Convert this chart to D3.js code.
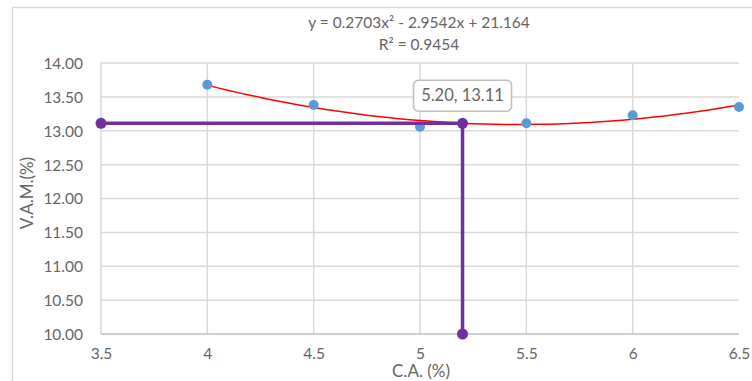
<!DOCTYPE html>
<html lang="en">
<head>
<meta charset="UTF-8">
<title>V.A.M. vs C.A.</title>
<script src="https://d3js.org/d3.v7.min.js"></script>
<style>
  body { margin: 0; background: white; }
  text { font-family: Lato, "Open Sans", sans-serif; fill: #656565; }
</style>
</head>
<body>
<svg id="main" width="752" height="381"></svg>
<script>
    // data
    let caValues = [4, 4.5, 5, 5.5, 6, 6.5];
    let vamValues = [13.68, 13.38, 13.06, 13.11, 13.23, 13.35];
    // polynomial trendline coefficients shown on the chart (a, b, c)
    let trendCoef = [0.2703, -2.9542, 21.164];
    let trendLabel = ["y = 0.2703x² - 2.9542x + 21.164", "R² = 0.9454"];
    // marked optimum
    let optimum = {x: 5.2, y: 13.11};
    let xTicks = [3.5, 4, 4.5, 5, 5.5, 6, 6.5];
    let yTicks = [10, 10.5, 11, 11.5, 12, 12.5, 13, 13.5, 14];

    let svg = d3.select('svg#main');
    let margins = {left: 101, right: 13, top: 63, bottom: 47};
    let W = 752, H = 381;

    // chart frame
    svg.append('rect')
        .attr('x', 12.5).attr('y', 7.5)
        .attr('width', W).attr('height', H)
        .style('fill', 'white')
        .style('stroke', '#d9d9d9')
        .style('stroke-width', '1.5px');

    let x = d3.scaleLinear().domain([3.5, 6.5]).range([margins.left, W - margins.right]);
    let y = d3.scaleLinear().domain([10, 14]).range([H - margins.bottom, margins.top]);

    // gridlines
    let grid = svg.append('g');
    grid.selectAll('line.h').data(yTicks.slice(1)).join('line')
        .attr('x1', x(3.5)).attr('x2', x(6.5))
        .attr('y1', d => y(d)).attr('y2', d => y(d))
        .style('stroke', '#d9d9d9').style('stroke-width', '1.5px');
    grid.selectAll('line.v').data(xTicks.slice(0, -1)).join('line')
        .attr('x1', d => x(d)).attr('x2', d => x(d))
        .attr('y1', y(14)).attr('y2', y(10))
        .style('stroke', '#d9d9d9').style('stroke-width', '1.5px');
    // bottom axis line
    svg.append('line')
        .attr('x1', x(3.5)).attr('x2', x(6.5))
        .attr('y1', y(10)).attr('y2', y(10))
        .style('stroke', '#bfbfbf').style('stroke-width', '1.5px');

    // tick labels
    let yAxis = svg.append('g')
        .attr('transform', 'translate(' + (margins.left - 18) + ',0)')
        .call(d3.axisLeft(y).tickValues(yTicks).tickFormat(d3.format('.2f')).tickSize(0));
    yAxis.select('.domain').remove();
    yAxis.selectAll('text').style('font-size', '15.5px').attr('x', 0).attr('dy', '0.35em');

    let xAxis = svg.append('g')
        .attr('transform', 'translate(0,' + (y(10) + 14) + ')')
        .call(d3.axisBottom(x).tickValues(xTicks).tickFormat(d => d).tickSize(0));
    xAxis.select('.domain').remove();
    xAxis.selectAll('text').style('font-size', '15.5px').attr('y', 0).attr('dy', '0.71em');

    // axis titles
    svg.append('text')
        .attr('transform', 'translate(33,' + 193 + ') rotate(-90)')
        .attr('text-anchor', 'middle')
        .style('font-size', '17px')
        .text('V.A.M.(%)');
    svg.append('text')
        .attr('x', 421).attr('y', 377)
        .attr('text-anchor', 'middle')
        .style('font-size', '17px')
        .text('C.A. (%)');

    // trendline from displayed coefficients
    let trendX = d3.range(4, 6.5001, 0.05);
    let line = d3.line().x(d => x(d)).y(d => y(trendCoef[0] * d * d + trendCoef[1] * d + trendCoef[2]));
    svg.append('path')
        .attr('d', line(trendX))
        .style('fill', 'none').style('stroke', '#ff0000').style('stroke-width', '1.5px');

    // data points
    svg.append('g').selectAll('circle').data(caValues).join('circle')
        .attr('cx', d => x(d))
        .attr('cy', (d, i) => y(vamValues[i]))
        .attr('r', 5)
        .style('fill', '#5b9bd5');

    // optimum guide lines
    let guide = [[3.5, optimum.y], [optimum.x, optimum.y], [optimum.x, 10]];
    svg.append('path')
        .attr('d', d3.line().x(d => x(d[0])).y(d => y(d[1]))(guide))
        .style('fill', 'none').style('stroke', '#7030a0').style('stroke-width', '3.5px');
    svg.append('g').selectAll('circle').data(guide).join('circle')
        .attr('cx', d => x(d[0])).attr('cy', d => y(d[1]))
        .attr('r', 5.5)
        .style('fill', '#7030a0');

    // data label
    let lx = x(optimum.x), ly = y(optimum.y) - 28;
    svg.append('rect')
        .attr('x', lx - 49).attr('y', ly - 15)
        .attr('width', 98).attr('height', 31)
        .attr('rx', 5)
        .style('fill', 'white').style('stroke', '#bfbfbf').style('stroke-width', '1.5px');
    svg.append('text')
        .attr('x', lx).attr('y', ly).attr('dy', '0.35em')
        .attr('text-anchor', 'middle')
        .style('font-size', '16.5px')
        .text(optimum.x.toFixed(2) + ', ' + optimum.y.toFixed(2));

    // trendline equation
    svg.append('g').selectAll('text').data(trendLabel).join('text')
        .attr('x', 419).attr('y', (d, i) => 28 + i * 22)
        .attr('text-anchor', 'middle')
        .style('font-size', '15.5px')
        .text(d => d);
</script>
</body>
</html>
